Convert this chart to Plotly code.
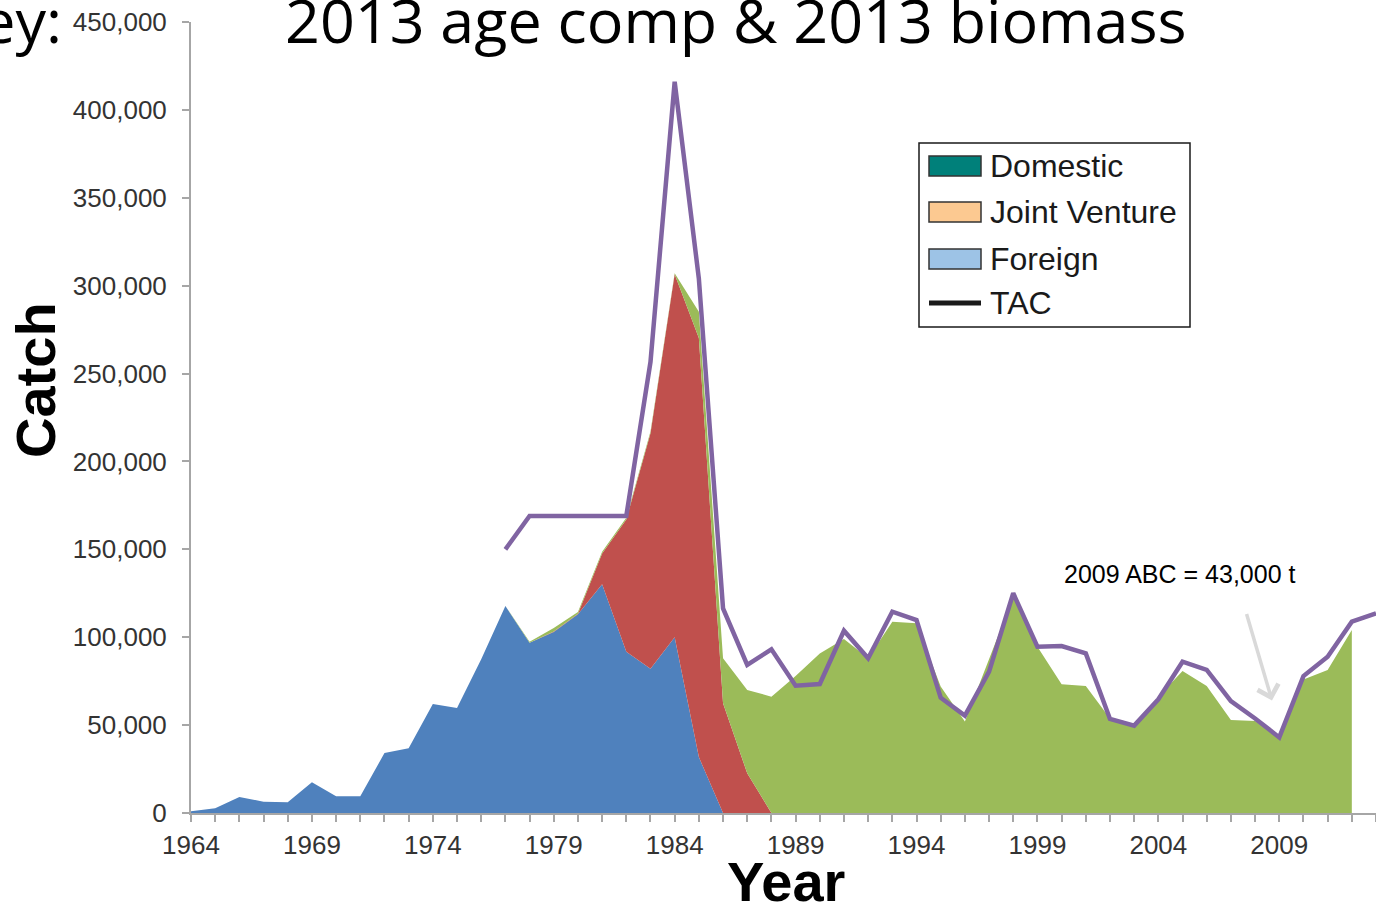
import plotly.graph_objects as go

years = list(range(1964, 2013))

foreign = [1000, 2700, 9100, 6400, 6100, 17500, 9500, 9500, 34100, 36800,
           62000, 59700, 87400, 117800, 96900, 103000, 113000, 130100, 91800, 82000,
           100000, 31800, 0, 0, 0, 0, 0, 0, 0, 0,
           0, 0, 0, 0, 0, 0, 0, 0, 0, 0,
           0, 0, 0, 0, 0, 0, 0, 0, 0]

joint_venture = [0, 0, 0, 0, 0, 0, 0, 0, 0, 0,
                 0, 0, 0, 0, 0, 300, 400, 17500, 75200, 134000,
                 206500, 238400, 62400, 22600, 0, 0, 0, 0, 0, 0,
                 0, 0, 0, 0, 0, 0, 0, 0, 0, 0,
                 0, 0, 0, 0, 0, 0, 0, 0, 0]

domestic = [0, 0, 0, 0, 0, 0, 0, 0, 0, 0,
            0, 0, 0, 0, 500, 2000, 1000, 1000, 1000, 1000,
            500, 15000, 25600, 47400, 66200, 77900, 90800, 99000, 88000, 108800,
            107900, 72000, 52000, 88000, 123000, 94600, 73200, 72200, 53800, 50000,
            66200, 80800, 72200, 52900, 52300, 43000, 76000, 81400, 104100]

tac_years = list(range(1977, 2014))
tac = [150000, 169000, 169000, 169000, 169000, 169000, 256600, 416000, 304000, 116400,
       84200, 93100, 72400, 73400, 103700, 88000, 114500, 109800, 65600, 55400,
       80400, 125000, 94600, 95000, 90800, 53500, 49700, 64700, 86100, 81400,
       63700, 53800, 43000, 77900, 88900, 108800, 113600]

legend_names = ["Domestic", "Joint Venture", "Foreign", "TAC"]
legend_colors = ["#00807a", "#fcc991", "#9dc3e6", "#1a1a1a"]

abc_year = 2009
abc_value = 43000

# plot area in pixels: x 191..1376, y 22..813
def px_x(p):
    return (p - 191) / 1185

def px_y(p):
    return (813 - p) / 791

fig = go.Figure()
for name, vals, col in [("Foreign", foreign, "#4f81bd"),
                        ("Joint Venture", joint_venture, "#c0504d"),
                        ("Domestic", domestic, "#9bbb59")]:
    fig.add_trace(go.Scatter(x=years, y=vals, name=name, stackgroup="catch",
                             mode="lines", line=dict(width=0, color=col),
                             fillcolor=col, showlegend=False))

fig.add_trace(go.Scatter(x=tac_years, y=tac, name="TAC", mode="lines",
                         line=dict(color="#8064a2", width=4.5), showlegend=False))

shapes = []
annotations = []

# legend (drawn by hand to get the big swatches)
shapes.append(dict(type="rect", xref="paper", yref="paper",
                   x0=px_x(919), x1=px_x(1190), y0=px_y(327), y1=px_y(143),
                   line=dict(color="#1a1a1a", width=1.5), fillcolor="white"))
rows = [166, 212, 259, 303]
for i, (name, col) in enumerate(zip(legend_names, legend_colors)):
    cy = rows[i]
    if name == "TAC":
        shapes.append(dict(type="line", xref="paper", yref="paper",
                           x0=px_x(929), x1=px_x(981), y0=px_y(cy), y1=px_y(cy),
                           line=dict(color=col, width=5)))
    else:
        shapes.append(dict(type="rect", xref="paper", yref="paper",
                           x0=px_x(929), x1=px_x(981), y0=px_y(cy + 10), y1=px_y(cy - 10),
                           line=dict(color="#333333", width=1.5), fillcolor=col))
    annotations.append(dict(text=name, xref="paper", yref="paper",
                            x=px_x(988), y=px_y(cy), xanchor="left", yanchor="middle",
                            showarrow=False,
                            font=dict(family="Liberation Sans", size=32, color="#1a1a1a")))

annotations += [
    dict(text="2013 age comp & 2013 biomass", xref="paper", yref="paper",
         x=px_x(736), y=px_y(20), xanchor="center", yanchor="middle", showarrow=False,
         font=dict(family="Open Sans", size=61, color="black")),
    dict(text="Survey:", xref="paper", yref="paper",
         x=px_x(64), y=px_y(20), xanchor="right", yanchor="middle", showarrow=False,
         font=dict(family="Open Sans", size=61, color="black")),
    dict(text="<b>Catch</b>", xref="paper", yref="paper", textangle=-90,
         x=px_x(35), y=px_y(380), xanchor="center", yanchor="middle", showarrow=False,
         font=dict(family="Liberation Sans", size=56, color="black")),
    dict(text="<b>Year</b>", xref="paper", yref="paper",
         x=px_x(786), y=px_y(881), xanchor="center", yanchor="middle", showarrow=False,
         font=dict(family="Liberation Sans", size=56, color="black")),
    dict(text="2009 ABC = 43,000 t", xref="paper", yref="paper",
         x=px_x(1179), y=px_y(574), xanchor="center", yanchor="middle", showarrow=False,
         font=dict(family="Liberation Sans", size=25, color="black")),
    dict(text="", x=abc_year - 0.3, y=abc_value + 21000, ax=abc_year - 1.37, ay=abc_value + 71000,
         xref="x", yref="y", axref="x", ayref="y", showarrow=True,
         arrowhead=4, arrowsize=1.2, arrowwidth=3.5, arrowcolor="#d9d9d9"),
]

axis_col = "#a6a6a6"
tick_font = dict(family="Liberation Sans", size=26, color="#333333")
fig.update_xaxes(range=[1964, 2013], tick0=1964, dtick=5, showgrid=False, zeroline=False,
                 showline=True, linecolor=axis_col, linewidth=2,
                 ticks="outside", ticklen=7, tickwidth=1.5, tickcolor=axis_col,
                 minor=dict(dtick=1, ticks="outside", ticklen=7, tickwidth=1.5, tickcolor=axis_col),
                 tickfont=tick_font, ticklabelstandoff=1)
fig.update_yaxes(range=[0, 450000], dtick=50000, tickformat=",d", showgrid=False, zeroline=False,
                 showline=True, linecolor=axis_col, linewidth=2,
                 ticks="outside", ticklen=7, tickwidth=1.5, tickcolor=axis_col,
                 tickfont=tick_font, ticklabelstandoff=10)

fig.update_layout(width=1376, height=903, margin=dict(l=191, r=0, t=22, b=90),
                  plot_bgcolor="white", paper_bgcolor="white",
                  shapes=shapes, annotations=annotations, showlegend=False)

fig.write_html("out.html", config={"displayModeBar": False},
               post_script="document.body.style.margin = '0';")
